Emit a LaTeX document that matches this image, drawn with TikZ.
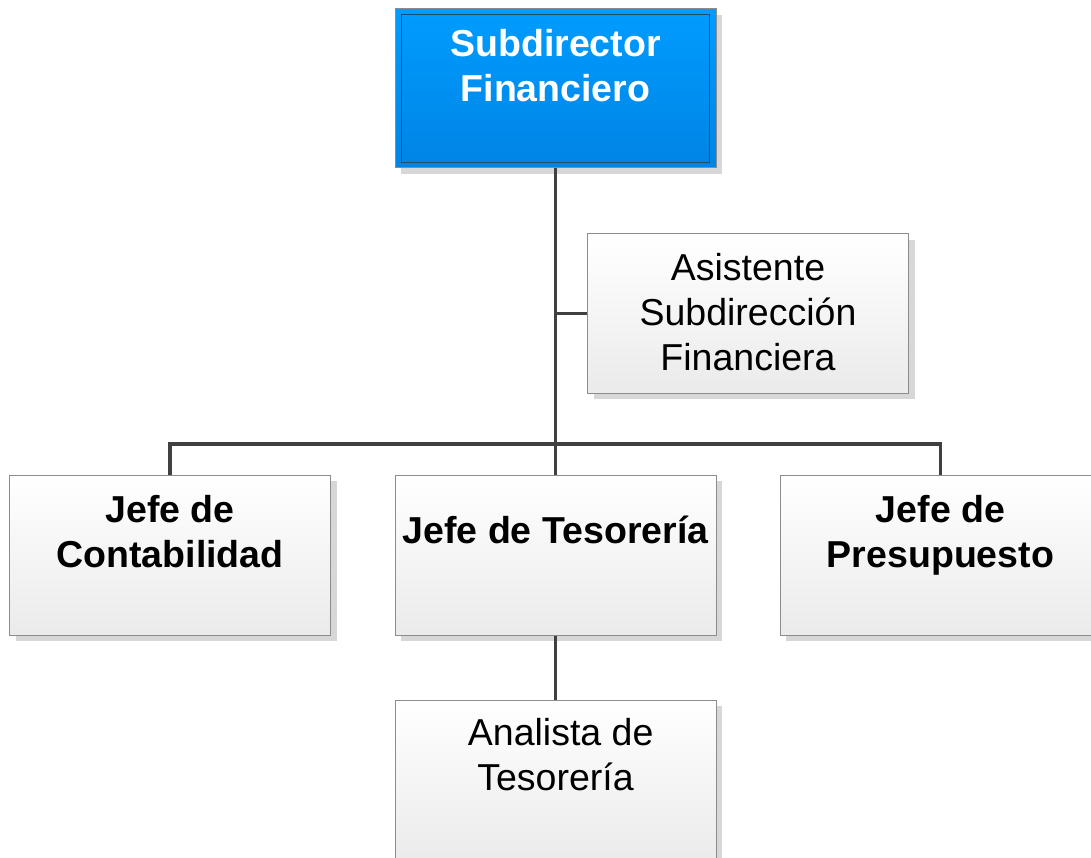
\documentclass[tikz,border=0pt]{standalone}
\usepackage{fontspec}
\setmainfont{Liberation Sans}
\usetikzlibrary{calc,shadows}
\definecolor{bluetop}{RGB}{0,156,255}
\definecolor{bluebot}{RGB}{0,132,228}
\definecolor{blueinner}{RGB}{30,80,110}
\definecolor{boxborder}{RGB}{140,140,140}
\definecolor{linecol}{RGB}{64,64,64}
\definecolor{shadowcol}{RGB}{215,215,215}
\tikzset{
  orgbox/.style={rectangle, draw=boxborder, line width=1pt, inner sep=0pt,
    minimum width=321pt, minimum height=160pt,
    top color=white, bottom color=black!8,
    drop shadow={shadow xshift=6pt, shadow yshift=-6pt, fill=shadowcol, opacity=1}},
  bluebox/.style={orgbox, draw=boxborder, top color=bluetop, bottom color=bluebot},
  lbl/.style={anchor=north, inner sep=0pt, align=center, font=\fontsize{37.5}{45}\selectfont},
  blbl/.style={lbl, font=\fontsize{37.5}{45}\selectfont\bfseries},
  conn/.style={draw=linecol, line width=3.5pt}
}
\begin{document}
\begin{tikzpicture}[x=1pt,y=-1pt]
\useasboundingbox (0,0) rectangle (1091,858);
% boxes
\node[bluebox, minimum height=159pt] (sub) at (555.5,88.5) {};
\draw[blueinner, line width=1.2pt] ($(sub.north west)+(7,6)$) rectangle ($(sub.south east)+(-7,-6)$);
\node[orgbox, minimum height=159pt] (asis) at (748,313.5) {};
\node[orgbox] (cont) at (170,555) {};
\node[orgbox] (tes) at (555.5,555) {};
\node[orgbox] (pres) at (940.5,555) {};
\node[orgbox] (anal) at (555.5,780) {};
% connectors
\coordinate (bus) at (555.5,444);
\draw[conn] (sub.south) -- (tes.north);
\draw[conn] (sub.south |- asis.west) -- (asis.west);
\draw[conn] (cont.north) |- (bus) -| (pres.north);
\draw[conn] (tes.south) -- (anal.north);
% labels
\node[blbl, text=white] (subt) at (555.5,29) {Subdirector\\Financiero};
\node[lbl] (asist) at (748,253) {Asistente\\Subdirección\\Financiera};
\node[blbl] (contt) at (170,495) {Jefe de\\Contabilidad};
\node[blbl] (test) at (555.5,516) {Jefe de Tesorería};
\node[blbl] (prest) at (940.5,495) {Jefe de\\Presupuesto};
\node[lbl] (analt) at (555.5,718) {\kern10.4pt Analista de\\Tesorería};
\end{tikzpicture}
\end{document}
